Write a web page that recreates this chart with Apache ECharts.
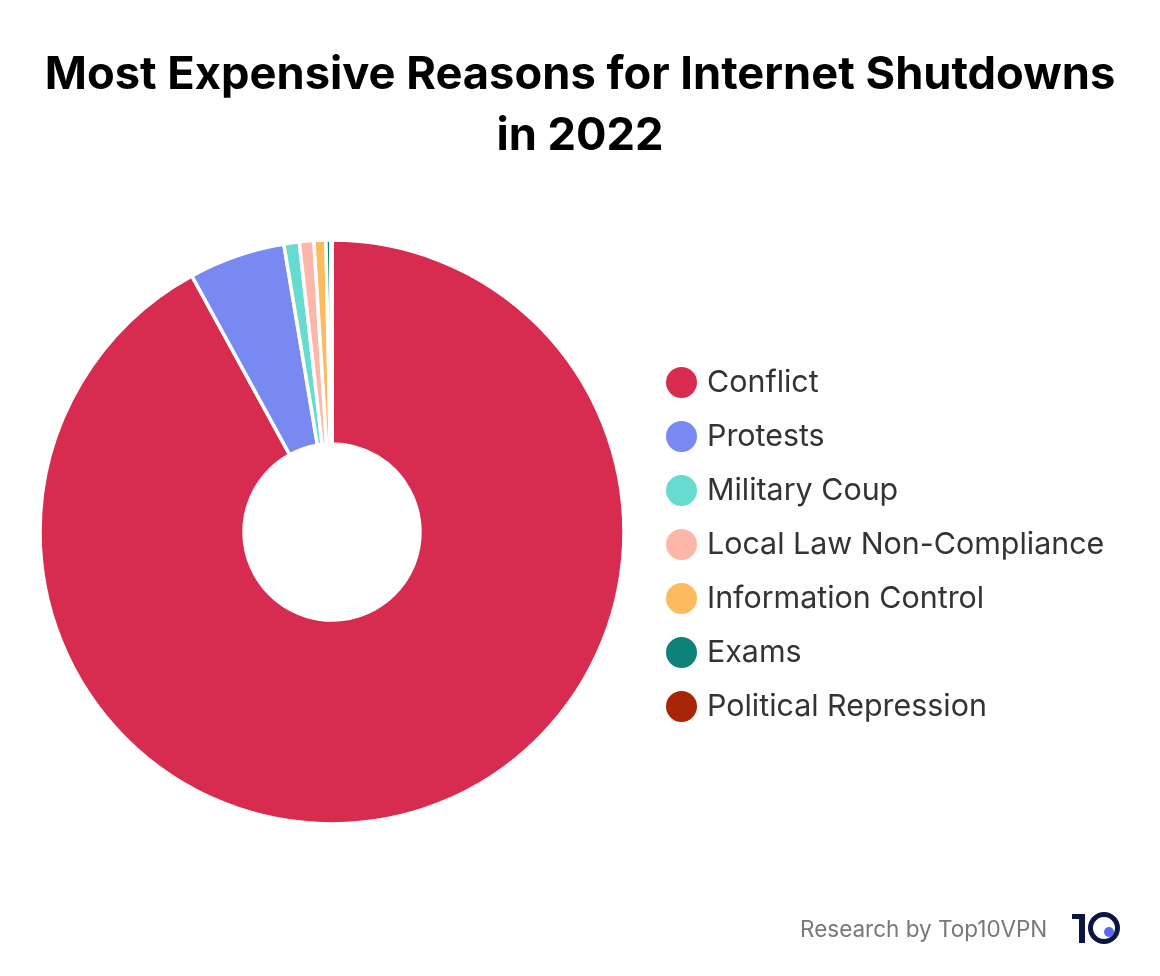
<!DOCTYPE html>
<html><head><meta charset="utf-8">
<script src="https://cdn.jsdelivr.net/npm/echarts@6/dist/echarts.min.js"></script>
<style>html,body{margin:0;padding:0;background:#fff}#c{width:1160px;height:976px}</style>
</head><body><div id="c"></div>
<script>
const categories = ["Conflict","Protests","Military Coup","Local Law Non-Compliance","Information Control","Exams","Political Repression"];
const values = [92.03,5.33,0.85,0.8,0.66,0.27,0.06];
const colors = ["#D72C4F","#788AF2","#66DBCF","#FDB7A8","#FDBB5E","#0C8379","#A82605"];
const titleText = "Most Expensive Reasons for Internet Shutdowns\nin 2022";
const sourceText = "Research by Top10VPN";
const chart = echarts.init(document.getElementById('c'));
chart.setOption({
  animation:false,
  backgroundColor:'#fff',
  color:colors,
  title:{text:titleText,left:575,top:40,textAlign:'center',
    textStyle:{fontFamily:'Inter',fontWeight:700,fontSize:45.25,lineHeight:61,color:'#000'}},
  legend:{orient:'vertical',left:664,top:365,padding:0,itemWidth:33,itemHeight:33,itemGap:19,icon:'circle',
    selectedMode:false,
    textStyle:{fontFamily:'Inter',fontSize:30.4,color:'#333',padding:[0,0,0,4],lineHeight:33},
    data:categories},
  series:[{type:'pie',center:[332,532],radius:[88,292],startAngle:90,clockwise:true,
    minAngle:0,label:{show:false},labelLine:{show:false},silent:true,
    itemStyle:{borderColor:'#fff',borderWidth:3.5},
    data:categories.map((n,i)=>({name:n,value:values[i]}))}],
  graphic:[
    {type:'text',left:800,top:919,style:{text:sourceText,fontFamily:'Inter',fontSize:22.5,fill:'#77777c'}},
    {type:'polygon',shape:{points:[[1072,914],[1085,914],[1085,943],[1079,943],[1079,919],[1072,919]]},style:{fill:'#0a1640'}},
    {type:'circle',shape:{cx:1104,cy:928,r:13.5},style:{fill:'none',stroke:'#0a1640',lineWidth:5}},
    {type:'circle',shape:{cx:1109,cy:932,r:5},style:{fill:'#5a66f5'}}
  ]
});
</script></body></html>
